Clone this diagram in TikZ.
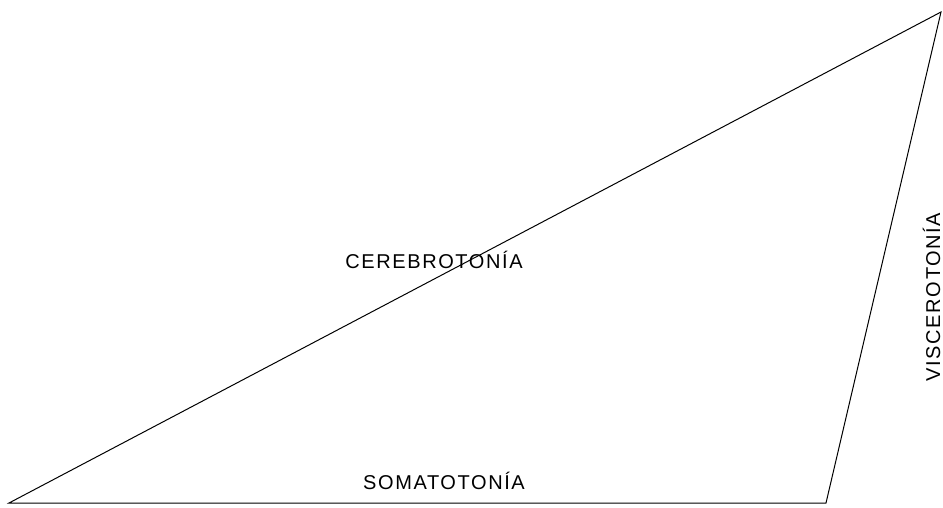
\documentclass[tikz,border=0pt]{standalone}
\usepackage{fontspec}
\setmainfont{Liberation Sans}
\begin{document}
\begin{tikzpicture}[x=1pt,y=-1pt,
  lbl/.style={font=\fontsize{20}{20}\selectfont\addfontfeature{LetterSpace=8}, inner sep=0pt, anchor=base},
  edge/.style={line width=1pt, line join=miter}]
\useasboundingbox (0,0) rectangle (943,507);
\coordinate (A) at (9,503);
\coordinate (B) at (826,503);
\coordinate (C) at (941,12);
\draw[edge] (A) -- (B) -- (C) -- cycle;
\node[lbl] (cer) at (434,268.5) {CEREBROTONÍA};
\node[lbl] (som) at (444,489) {SOMATOTONÍA};
\node[lbl, rotate=90] (vis) at (940,297) {VISCEROTONÍA};
\end{tikzpicture}
\end{document}
